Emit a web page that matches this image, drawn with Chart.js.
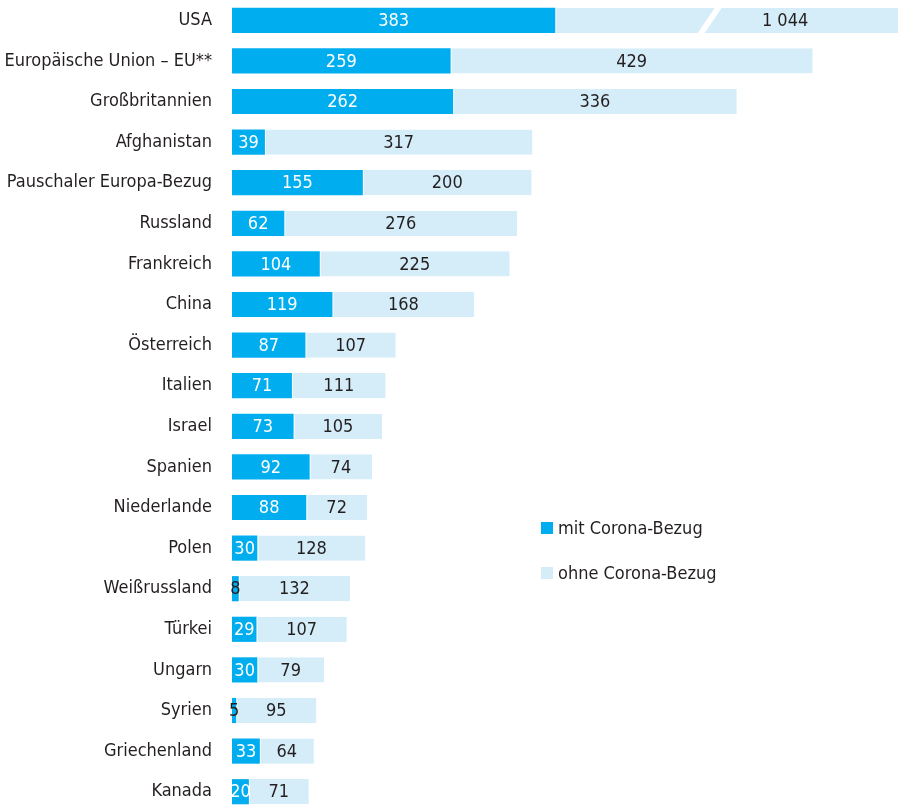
<!DOCTYPE html>
<html>
<head>
<meta charset="utf-8">
<script src="https://cdn.jsdelivr.net/npm/chart.js@4"></script>
<style>
  html, body { margin: 0; padding: 0; background: #fff; overflow: hidden; }
  #wrap { width: 899px; height: 812px; }
</style>
</head>
<body>
<div id="wrap"><canvas id="chart" width="899" height="812"></canvas></div>
<script>
const countries = ['USA', 'Europäische Union – EU**', 'Großbritannien', 'Afghanistan', 'Pauschaler Europa-Bezug',
  'Russland', 'Frankreich', 'China', 'Österreich', 'Italien', 'Israel', 'Spanien', 'Niederlande', 'Polen',
  'Weißrussland', 'Türkei', 'Ungarn', 'Syrien', 'Griechenland', 'Kanada'];
const mitCorona = [383, 259, 262, 39, 155, 62, 104, 119, 87, 71, 73, 92, 88, 30, 8, 29, 30, 5, 33, 20];
const ohneCorona = [1044, 429, 336, 317, 200, 276, 225, 168, 107, 111, 105, 74, 72, 128, 132, 107, 79, 95, 64, 71];
const seriesNames = ['mit Corona-Bezug', 'ohne Corona-Bezug'];
const axisMax = 789;     // visible end of the value axis, longer bars are cut
const breakAt = 566;     // where the cut bar gets its break mark

const FONT = "'Liberation Sans Narrow', 'DejaVu Sans Condensed', sans-serif";
const DARK = '#00AEEF';
const LIGHT = '#D5EDF9';
const TEXT = '#231F20';

const fmt = v => String(v).replace(/\B(?=(\d{3})+(?!\d))/g, ' ');

// white slash over bars that run past the axis end
const breakPlugin = {
  id: 'breakMark',
  afterDatasetsDraw(chart) {
    const { ctx, scales: { x } } = chart;
    const meta = chart.getDatasetMeta(1);
    meta.data.forEach((bar, i) => {
      if (mitCorona[i] + ohneCorona[i] <= axisMax) return;
      const cx = x.getPixelForValue(breakAt);
      const top = bar.y - bar.height / 2, bot = bar.y + bar.height / 2;
      ctx.save();
      ctx.fillStyle = '#fff';
      ctx.beginPath();
      ctx.moveTo(cx - 12, bot);
      ctx.lineTo(cx - 5, bot);
      ctx.lineTo(cx + 12, top);
      ctx.lineTo(cx + 5, top);
      ctx.closePath();
      ctx.fill();
      ctx.restore();
    });
  }
};

// numbers centred in each segment
const labelPlugin = {
  id: 'segLabels',
  afterDraw(chart) {
    const { ctx, chartArea, scales: { x } } = chart;
    ctx.save();
    ctx.font = `18px ${FONT}`;
    ctx.textAlign = 'center';
    ctx.textBaseline = 'middle';
    chart.data.datasets.forEach((ds, di) => {
      chart.getDatasetMeta(di).data.forEach((bar, i) => {
        const v = ds.data[i];
        const left = Math.min(bar.base, bar.x);
        const right = Math.max(bar.base, bar.x);
        let cx = (left + right) / 2;
        if (right > chartArea.right) {
          const b = x.getPixelForValue(breakAt);
          cx = b + 0.4 * (chartArea.right - b);
        }
        const txt = fmt(v);
        const w = ctx.measureText(txt).width;
        ctx.fillStyle = (di === 0 && (right - left) > w * 0.75) ? '#fff' : TEXT;
        ctx.fillText(txt, cx, bar.y + 1);
      });
    });
    ctx.restore();
  }
};

// vertical legend placed beside the short bars
const legendPlugin = {
  id: 'sideLegend',
  afterDraw(chart) {
    const { ctx } = chart;
    ctx.save();
    ctx.font = `18px ${FONT}`;
    ctx.textBaseline = 'middle';
    ctx.textAlign = 'left';
    chart.data.datasets.forEach((ds, i) => {
      const y = 528 + i * 45;
      ctx.fillStyle = ds.backgroundColor;
      ctx.fillRect(541, y - 6, 12, 12);
      ctx.fillStyle = TEXT;
      ctx.fillText(ds.label, 558, y + 1);
    });
    ctx.restore();
  }
};

new Chart(document.getElementById('chart'), {
  type: 'bar',
  data: {
    labels: countries,
    datasets: [
      { label: seriesNames[0], data: mitCorona, backgroundColor: DARK, borderWidth: 0 },
      { label: seriesNames[1], data: ohneCorona, backgroundColor: LIGHT,
        borderColor: '#fff', borderWidth: { left: 1, right: 0, top: 0, bottom: 0 }, borderSkipped: false }
    ]
  },
  options: {
    indexAxis: 'y',
    responsive: false,
    animation: false,
    barPercentage: 0.62,
    categoryPercentage: 1,
    layout: { autoPadding: false, padding: { left: 0, right: 1, top: 0, bottom: 0 } },
    plugins: { legend: { display: false }, tooltip: { enabled: false } },
    scales: {
      x: { stacked: true, min: 0, max: axisMax, display: false },
      y: {
        stacked: true,
        grid: { display: false, drawTicks: false },
        border: { display: false },
        ticks: { color: TEXT, font: { family: FONT, size: 18 }, padding: 20 },
        afterFit(scale) {
          scale.width = 232;
          scale.paddingTop = 0;
          scale.paddingBottom = 0;
        }
      }
    }
  },
  plugins: [breakPlugin, labelPlugin, legendPlugin]
});
</script>
</body>
</html>
